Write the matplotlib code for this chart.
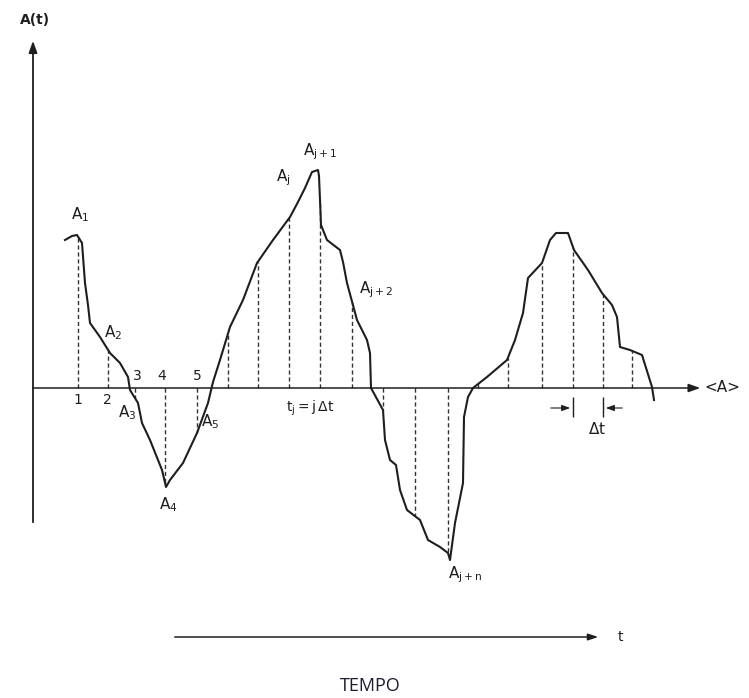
import matplotlib
matplotlib.use("Agg")
import matplotlib.pyplot as plt
import numpy as np

plt.rcParams["font.family"] = ["DejaVu Sans"]
plt.rcParams["mathtext.fontset"] = "dejavusans"

# %% curva A(t) (tempo, ampiezza)
t_curve = [32, 39, 44, 49, 52, 55, 57, 67, 77, 87,
           95, 97, 105, 109, 117, 129, 133, 137, 150, 164,
           175, 180, 187, 197, 210, 224, 240, 257, 265, 272,
           279, 285, 286, 287, 288, 294, 307, 310, 314, 324,
           334, 337, 338, 350, 352, 357, 363, 367, 374, 387,
           395, 407, 415, 417, 422, 430, 431, 435, 440, 454,
           474, 482, 490, 495, 509, 517, 523, 535, 541, 555,
           569, 579, 584, 587, 597, 609, 619, 621]
a_curve = [148, 152, 153, 145, 105, 83, 65, 51, 35, 25,
           11, -2, -15, -35, -52, -82, -99, -92, -75, -45,
           -15, 6, 28, 61, 88, 125, 148, 171, 186, 200,
           216, 218, 212, 188, 163, 148, 138, 126, 105, 68,
           48, 35, 0, -22, -52, -72, -77, -102, -122, -132,
           -152, -159, -165, -172, -135, -95, -29, -9, 0, 11,
           28, 48, 75, 110, 125, 148, 155, 155, 138, 118,
           95, 83, 71, 41, 38, 33, 1, -12]

# istanti di campionamento (passo delta t)
t_samples = [45, 75, 102, 132, 164, 195, 225, 256, 287, 319,
             350, 382, 415, 445, 475, 509, 540, 570, 599]

# etichette dei punti: (testo, t, A)
point_labels = [
    (r"$\mathregular{A_1}$", 47, 173),
    (r"$\mathregular{A_2}$", 80, 55),
    (r"$\mathregular{A_3}$", 94, -25),
    (r"$\mathregular{A_4}$", 135, -117),
    (r"$\mathregular{A_5}$", 177, -34),
    (r"$\mathregular{A_j}$", 250, 210),
    (r"$\mathregular{A_{j+1}}$", 287, 236),
    (r"$\mathregular{A_{j+2}}$", 343, 98),
    (r"$\mathregular{A_{j+n}}$", 432, -187),
]
index_labels = [("1", 45, -12), ("2", 74, -12), ("3", 104, 12),
                ("4", 129, 12), ("5", 164, 12)]

# %%
fig = plt.figure(figsize=(7.49, 6.98), dpi=100)
ax = fig.add_axes([0, 0, 1, 1])
ax.set_xlim(-33, 716)
ax.set_ylim(-310, 388)
ax.axis("off")

ink = "#1e1e1e"

# assi
ax.annotate("", xy=(0, 350), xytext=(0, -137),
            arrowprops=dict(arrowstyle="-|>,head_length=0.7,head_width=0.25", color=ink, lw=1.3))
ax.annotate("", xy=(670, 0), xytext=(-3, 0),
            arrowprops=dict(arrowstyle="-|>,head_length=0.7,head_width=0.25", color=ink, lw=1.1))
ax.text(2, 368, "A(t)", fontsize=10, fontweight="bold", ha="center", va="center", color=ink)
ax.text(689, 0, "<A>", fontsize=11, ha="center", va="center", color=ink)

# linee tratteggiate ai campioni
a_samples = np.interp(t_samples, t_curve, a_curve)
ax.vlines(t_samples, 0, a_samples, colors="#333333", linestyles=(0, (3, 2)), lw=1)

# curva
ax.plot(t_curve, a_curve, color=ink, lw=1.5, solid_joinstyle="round")

for txt, tt, aa in point_labels:
    ax.text(tt, aa, txt, fontsize=11, ha="center", va="center", color=ink)
for txt, tt, aa in index_labels:
    ax.text(tt, aa, txt, fontsize=10, ha="center", va="center", color=ink)

ax.text(277, -20, r"$\mathregular{t_j = j\,\Delta t}$", fontsize=10, ha="center", va="center", color=ink)

# delta t
ax.annotate("", xy=(540, -20), xytext=(515, -20),
            arrowprops=dict(arrowstyle="-|>,head_length=0.5,head_width=0.18", color=ink, lw=0.8))
ax.annotate("", xy=(570, -20), xytext=(592, -20),
            arrowprops=dict(arrowstyle="-|>,head_length=0.5,head_width=0.18", color=ink, lw=0.8))
ax.vlines([540, 570], -9, -29, colors=ink, lw=1)
ax.text(564, -41, r"$\mathregular{\Delta t}$", fontsize=11, ha="center", va="center", color=ink)

# freccia del tempo
ax.annotate("", xy=(568, -249), xytext=(139, -249),
            arrowprops=dict(arrowstyle="-|>,head_length=0.6,head_width=0.2", color=ink, lw=1.1))
ax.text(587, -249, "t", fontsize=10, ha="center", va="center", color=ink)
ax.text(337, -298, "TEMPO", fontsize=13, ha="center", va="center", color="#1c1c30",
        family=["Open Sans", "DejaVu Sans"])

plt.savefig("out.png", dpi=100)
